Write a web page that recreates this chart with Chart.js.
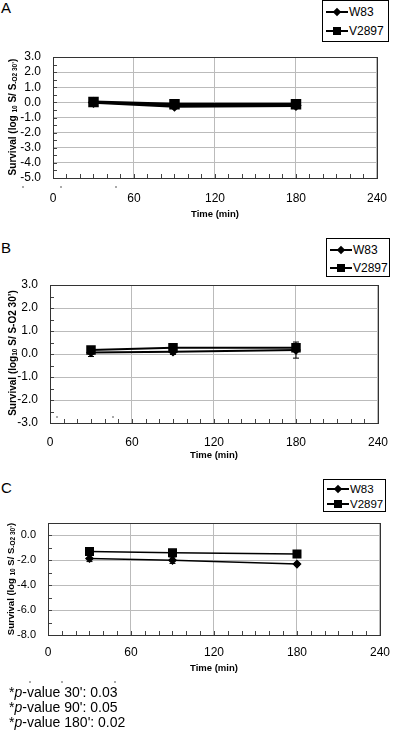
<!DOCTYPE html>
<html>
<head>
<meta charset="utf-8">
<script src="https://cdn.jsdelivr.net/npm/chart.js@4.4.1/dist/chart.umd.min.js"></script>
<style>
body { margin: 0; width: 400px; height: 738px; background: #fff; position: relative; overflow: hidden; font-family: "Liberation Sans", Arial, sans-serif; color: #000; }
canvas { position: absolute; left: 0; }
.letter { position: absolute; left: 1px; font-size: 15px; line-height: 15px; }
.ytitle { position: absolute; font-weight: bold; font-size: 10px; white-space: nowrap; transform: translate(-50%, -50%) rotate(-90deg); }
.ytitle sub { font-size: 6.5px; vertical-align: -1px; }
.legend { position: absolute; border: 1px solid #000; background: #fff; box-sizing: border-box; }
.row { position: absolute; left: 3px; height: 14px; line-height: 14px; white-space: nowrap; }
.sym { position: relative; display: inline-block; width: 22px; height: 14px; vertical-align: top; margin-right: 1px; }
.sym .ln { position: absolute; left: 0; right: 0; top: 6px; height: 2px; background: #000; }
.sym .sq { position: absolute; left: 7px; top: 3px; width: 8px; height: 8px; background: #000; }
.sym .di { position: absolute; left: 8px; top: 4px; width: 6px; height: 6px; background: #000; transform: rotate(45deg); }
.dot { position: absolute; width: 2px; height: 2px; background: #aaa; }
.note { position: absolute; left: 9px; font-size: 14px; line-height: 16px; }
</style>
</head>
<body>

<div class="letter" style="top:0px">A</div>
<div class="letter" style="top:240px">B</div>
<div class="letter" style="top:480px">C</div>

<canvas id="chartA" width="400" height="225" style="top:0px"></canvas>
<canvas id="chartB" width="400" height="240" style="top:230px"></canvas>
<canvas id="chartC" width="400" height="220" style="top:460px"></canvas>

<div class="ytitle" style="left:12px;top:117px">Survival (log <sub>10</sub> S/ S<sub>-O2 30’</sub>)</div>
<div class="ytitle" style="left:12px;top:353px">Survival (log<sub>10</sub> S/ S-O2 30’)</div>
<div class="ytitle" style="left:10px;top:579px;font-size:9.5px">Survival (log <sub>10</sub> S/ S<sub>-O2 30’</sub>)</div>

<div class="legend" style="left:322px;top:0px;width:67px;height:42px;font-size:12px">
  <div class="row" style="top:4px"><span class="sym"><span class="ln"></span><span class="di"></span></span>W83</div>
  <div class="row" style="top:23px"><span class="sym"><span class="ln"></span><span class="sq"></span></span>V2897</div>
</div>
<div class="legend" style="left:326px;top:238px;width:64px;height:39px;font-size:12px">
  <div class="row" style="top:4px"><span class="sym"><span class="ln"></span><span class="di"></span></span>W83</div>
  <div class="row" style="top:22px"><span class="sym"><span class="ln"></span><span class="sq"></span></span>V2897</div>
</div>
<div class="legend" style="left:323px;top:479px;width:63px;height:33px;font-size:11.5px">
  <div class="row" style="top:2px"><span class="sym"><span class="ln"></span><span class="di"></span></span>W83</div>
  <div class="row" style="top:17px"><span class="sym"><span class="ln"></span><span class="sq"></span></span>V2897</div>
</div>

<div class="dot" style="left:22px;top:186px"></div>
<div class="dot" style="left:60px;top:186px"></div>
<div class="dot" style="left:115px;top:186px"></div>
<div class="dot" style="left:56px;top:416px"></div>
<div class="dot" style="left:112px;top:416px"></div>
<div class="dot" style="left:29px;top:681px"></div>
<div class="dot" style="left:61px;top:681px"></div>
<div class="dot" style="left:114px;top:681px"></div>

<div class="note" style="top:684px">*<i>p</i>-value 30': 0.03</div>
<div class="note" style="top:699px">*<i>p</i>-value 90': 0.05</div>
<div class="note" style="top:714px">*<i>p</i>-value 180': 0.02</div>

<script>
// sampling times (min) and x axis ticks
const times = [30, 90, 180];
const xTicks = [0, 60, 120, 180, 240];

// panel A
const aW83 = [0.0, -0.25, -0.2];
const aV2897 = [0.03, -0.13, -0.13];
const aYTicks = [-5, -4, -3, -2, -1, 0, 1, 2, 3];

// panel B
const bW83 = [0.07, 0.1, 0.17];
const bW83Err = [0.18, 0.12, 0.35];
const bV2897 = [0.17, 0.27, 0.27];
const bV2897Err = [0.05, 0.05, 0.1];
const bYTicks = [-3, -2, -1, 0, 1, 2, 3];

// panel C
const cW83 = [-1.85, -2.0, -2.3];
const cW83Err = [0.25, 0.25, 0.08];
const cV2897 = [-1.3, -1.4, -1.5];
const cV2897Err = [0.05, 0.05, 0.05];
const cYTicks = [-8, -6, -4, -2, 0];

const pts = vals => times.map((t, i) => ({x: t, y: vals[i]}));

// frame, inner minor ticks and error bars
const extras = {
  id: 'extras',
  beforeDatasetsDraw(chart, args, opts) {
    const {ctx, chartArea: a, scales: {x, y}} = chart;
    ctx.save();
    ctx.strokeStyle = '#444';
    ctx.lineWidth = 1;
    ctx.beginPath();
    for (let v = x.min; v <= x.max; v += opts.xMinor) {
      const px = Math.round(x.getPixelForValue(v)) + 0.5;
      ctx.moveTo(px, a.bottom);
      ctx.lineTo(px, a.bottom - 4);
    }
    for (let v = y.min; v <= y.max + 1e-9; v += opts.yMinor) {
      const py = Math.round(y.getPixelForValue(v)) + 0.5;
      ctx.moveTo(a.left, py);
      ctx.lineTo(a.left + 4, py);
    }
    ctx.stroke();
    ctx.strokeStyle = '#333';
    ctx.strokeRect(Math.round(a.left) + 0.5, Math.round(a.top) + 0.5, Math.round(a.right - a.left), Math.round(a.bottom - a.top));

    ctx.strokeStyle = '#000';
    chart.data.datasets.forEach(ds => {
      if (!ds.err) return;
      ds.data.forEach((p, j) => {
        const px = x.getPixelForValue(p.x);
        const hi = y.getPixelForValue(p.y + ds.err[j]);
        const lo = y.getPixelForValue(p.y - ds.err[j]);
        ctx.beginPath();
        ctx.moveTo(px, hi); ctx.lineTo(px, lo);
        ctx.moveTo(px - 3, hi); ctx.lineTo(px + 3, hi);
        ctx.moveTo(px - 3, lo); ctx.lineTo(px + 3, lo);
        ctx.stroke();
      });
    });
    ctx.restore();
  }
};

function makePanel(id, cfg) {
  const H = document.getElementById(id).height;
  return new Chart(document.getElementById(id), {
    type: 'line',
    data: {
      datasets: [{
        label: 'W83',
        data: pts(cfg.w83),
        err: cfg.w83Err,
        borderColor: '#000',
        backgroundColor: '#000',
        borderWidth: cfg.lw,
        pointStyle: 'rectRot',
        pointRadius: 3.5,
        tension: 0
      }, {
        label: 'V2897',
        data: pts(cfg.v2897),
        err: cfg.v2897Err,
        borderColor: '#000',
        backgroundColor: '#000',
        borderWidth: cfg.lw,
        pointStyle: 'rect',
        pointRadius: 5.3,
        tension: 0
      }]
    },
    options: {
      responsive: false,
      animation: false,
      layout: {padding: {top: cfg.top, right: 400 - cfg.right, left: 0, bottom: 0}},
      plugins: {
        legend: {display: false},
        tooltip: {enabled: false},
        extras: {xMinor: 10, yMinor: cfg.yMinor}
      },
      scales: {
        x: {
          type: 'linear',
          min: 0,
          max: 240,
          afterBuildTicks: s => { s.ticks = xTicks.map(v => ({value: v})); },
          afterFit: s => { s.height = H - cfg.bottom; },
          ticks: {color: '#000', font: {family: 'Liberation Sans', size: 12}, padding: cfg.xPad, maxRotation: 0, autoSkip: false},
          grid: {color: '#bbb', drawTicks: false},
          border: {display: false},
          title: {display: true, text: 'Time (min)', color: '#000', font: {family: 'Liberation Sans', size: 9.5, weight: 'bold'}, padding: {top: 0, bottom: cfg.titlePad}}
        },
        y: {
          min: cfg.yMin,
          max: cfg.yMax,
          afterBuildTicks: s => { s.ticks = cfg.yTicks.map(v => ({value: v})); },
          afterFit: s => { s.width = cfg.left; },
          ticks: {color: '#000', font: {family: 'Liberation Sans', size: cfg.yFont}, padding: 12, autoSkip: false, callback: v => v.toFixed(1)},
          grid: {color: '#bbb', drawTicks: false},
          border: {display: false}
        }
      }
    },
    plugins: [extras]
  });
}

makePanel('chartA', {w83: aW83, v2897: aV2897, yTicks: aYTicks, yMin: -5, yMax: 3, yMinor: 0.5, yFont: 12,
  left: 53, right: 389, top: 57, bottom: 178, xPad: 13, titlePad: 5, lw: 3});
makePanel('chartB', {w83: bW83, w83Err: bW83Err, v2897: bV2897, v2897Err: bV2897Err, yTicks: bYTicks, yMin: -3, yMax: 3, yMinor: 0.5, yFont: 12,
  left: 50, right: 390, top: 55, bottom: 193, xPad: 12, titlePad: 9, lw: 2});
makePanel('chartC', {w83: cW83, w83Err: cW83Err, v2897: cV2897, v2897Err: cV2897Err, yTicks: cYTicks, yMin: -8, yMax: 1, yMinor: 1, yFont: 11,
  left: 48, right: 391, top: 63, bottom: 175, xPad: 10, titlePad: 6, lw: 1.5});
</script>
</body>
</html>
